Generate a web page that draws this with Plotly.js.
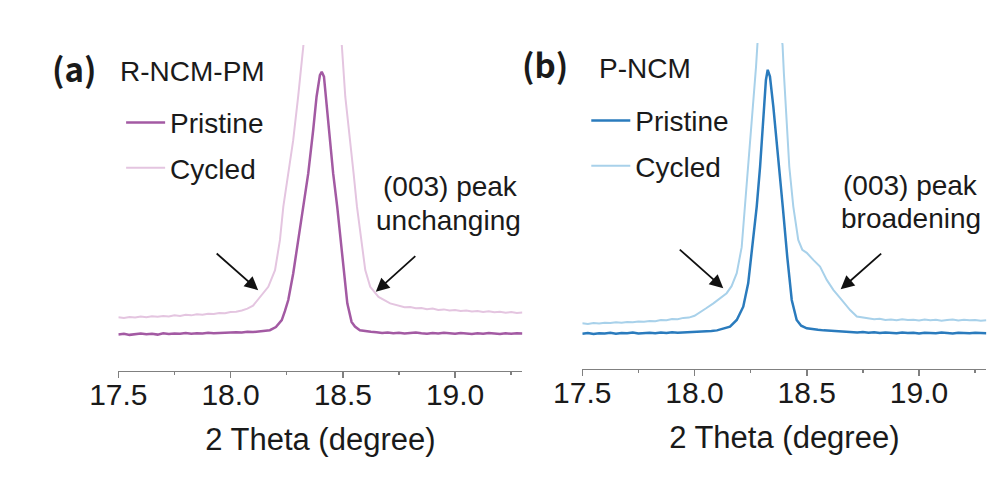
<!DOCTYPE html>
<html>
<head>
<meta charset="utf-8">
<script src="https://cdn.plot.ly/plotly-3.0.1.min.js"></script>
<style>html,body{margin:0;padding:0;background:#fff;}#chart{width:1001px;height:491px;}</style>
</head>
<body>
<div id="chart"></div>
<script>
// ---------- DATA (2 Theta in degree, intensity in arbitrary units) ----------
// Panel (a) R-NCM-PM, Pristine
var aPristineX = [17.500,17.525,17.550,17.575,17.600,17.625,17.650,17.675,17.700,17.725,17.750,17.775,17.800,17.825,17.850,17.875,17.900,17.925,17.950,17.975,18.000,18.025,18.050,18.075,18.100,18.125,18.150,
  18.175,18.202,18.228,18.242,18.257,18.279,18.301,18.324,18.346,18.368,18.383,18.398,18.406,18.416,18.428,18.443,18.457,18.475,18.490,18.505,18.520,18.539,18.554,18.576,18.600,
  18.625,18.650,18.675,18.700,18.725,18.750,18.775,18.800,18.825,18.850,18.875,18.900,18.925,18.950,18.975,19.000,19.025,19.050,19.075,19.100,19.125,19.150,19.175,19.200,19.225,19.250,19.275,19.300];
var aPristineY = [-0.2,0.1,-0.3,0.0,0.2,-0.1,0.1,-0.2,0.3,0.0,0.2,0.1,0.4,0.1,0.3,0.2,0.5,0.3,0.4,0.6,0.5,0.7,0.6,0.9,0.8,1.0,1.2,
  1.5,2.7,5.4,8.8,13.1,23.3,36.2,49.0,61.8,78.5,91.3,99.6,100.9,99.0,87.4,74.6,61.8,49.0,36.2,23.3,11.8,4.7,2.9,1.5,1.1,
  0.9,0.7,0.4,0.6,0.3,0.5,0.2,0.4,0.6,0.3,0.1,0.4,0.2,0.5,0.3,0.1,0.4,0.2,0.0,0.3,0.1,0.4,0.2,0.0,0.3,0.1,0.3,0.2];

// Panel (a) R-NCM-PM, Cycled
var aCycledX = [17.500,17.525,17.550,17.575,17.600,17.625,17.650,17.675,17.700,17.725,17.750,17.775,17.800,17.825,17.850,17.875,17.900,17.925,17.950,17.975,18.000,18.025,18.050,18.075,
  18.100,18.131,18.168,18.198,18.220,18.235,18.257,18.279,18.301,18.324,18.350,18.380,18.410,18.440,18.470,18.496,18.511,18.533,18.548,18.563,18.581,18.600,18.622,18.659,18.711,
  18.750,18.775,18.800,18.825,18.850,18.875,18.900,18.925,18.950,18.975,19.000,19.025,19.050,19.075,19.100,19.125,19.150,19.175,19.200,19.225,19.250,19.275,19.300];
var aCycledY = [6.5,6.2,6.6,6.4,6.8,6.5,6.9,6.7,7.0,6.8,7.2,7.0,7.4,7.2,7.6,7.4,7.8,7.7,8.1,8.0,8.5,8.6,9.1,9.8,
  10.9,14.3,18.2,24.6,36.2,49.0,61.8,74.6,91.3,110.5,135,158,168,158,135,110.5,91.3,74.6,61.8,49.0,36.2,24.6,18.2,14.3,11.8,
  10.8,10.3,10.4,9.9,10.0,9.6,9.8,9.3,9.5,9.1,9.3,8.9,9.1,8.7,8.9,8.5,8.8,8.4,8.6,8.2,8.5,8.1,8.3];

// Panel (b) P-NCM, Pristine
var bPristineX = [17.500,17.525,17.550,17.575,17.600,17.625,17.650,17.675,17.700,17.725,17.750,17.775,17.800,17.825,17.850,17.875,17.900,17.925,17.950,17.975,18.000,18.025,18.050,18.075,18.100,
  18.130,18.158,18.188,18.217,18.239,18.262,18.277,18.292,18.306,18.318,18.326,18.336,18.351,18.373,18.393,18.413,18.433,18.455,18.475,18.500,
  18.525,18.550,18.575,18.600,18.625,18.650,18.675,18.700,18.725,18.750,18.775,18.800,18.825,18.850,18.875,18.900,18.925,18.950,18.975,19.000,19.025,19.050,19.075,19.100,19.125,19.150,19.175,19.200,19.225,19.250,19.275,19.300];
var bPristineY = [-0.3,0.0,-0.4,-0.1,-0.2,0.1,-0.3,0.0,-0.1,0.2,-0.2,0.0,0.1,-0.1,0.2,0.0,0.3,0.1,0.2,0.4,0.3,0.5,0.6,0.8,1.0,
  1.6,2.4,5.0,10.1,19.1,35.8,48.6,64.0,80.7,97.3,101.2,98.6,87.0,67.8,48.6,29.3,12.7,5.0,2.8,1.8,
  1.4,1.2,1.0,0.9,0.6,0.7,0.4,0.5,0.2,0.4,0.1,0.3,0.0,0.2,0.1,-0.1,0.2,0.0,0.1,-0.2,0.1,0.0,-0.1,0.2,0.0,-0.2,0.1,0.0,-0.1,0.1,0.0,-0.1];

// Panel (b) P-NCM, Cycled
var bCycledX = [17.500,17.525,17.550,17.575,17.600,17.625,17.650,17.675,17.700,17.725,17.750,17.775,17.800,17.825,17.850,17.875,17.900,17.925,17.950,17.975,
  18.000,18.025,18.050,18.084,18.115,18.143,18.165,18.188,18.210,18.225,18.240,18.255,18.274,18.280,18.300,18.330,18.360,18.385,18.392,18.398,18.410,18.422,18.440,18.462,18.480,18.500,18.530,18.559,18.589,18.619,18.648,18.670,18.693,18.723,18.750,
  18.775,18.800,18.825,18.850,18.875,18.900,18.925,18.950,18.975,19.000,19.025,19.050,19.075,19.100,19.125,19.150,19.175,19.200,19.225,19.250,19.275,19.300];
var bCycledY = [3.7,3.5,3.8,3.6,3.9,3.8,4.1,3.9,4.2,4.1,4.4,4.3,4.6,4.5,5.0,4.9,5.4,5.3,5.8,5.9,
  6.6,7.9,9.4,11.4,13.3,15.3,18.0,23.0,33.0,48.6,64.0,80.7,102.4,110.8,135,150,135,115,110.8,99.9,80.7,64.0,48.6,35.8,32.0,30.8,28.0,25.5,20.4,16.5,13.5,11.0,8.8,6.3,5.9,
  5.6,5.3,5.5,5.0,5.2,4.9,5.3,5.0,5.1,4.8,5.2,4.9,5.1,4.7,5.0,5.2,4.8,5.1,4.9,5.0,4.7,4.9];

var seriesNames = ['Pristine', 'Cycled'];
var sampleNames = ['R-NCM-PM', 'P-NCM'];
var panelLabels = ['(a)', '(b)'];
var peakNotes = [['(003) peak', 'unchanging'], ['(003) peak', 'broadening']];
var tickVals = [17.5, 18.0, 18.5, 19.0];
var tickText = ['17.5', '18.0', '18.5', '19.0'];
var xTitle = '2 Theta (degree)';

// ---------- STYLE ----------
var FONT = 'Liberation Sans, Arial, Helvetica, sans-serif';
var TXT = '#1a1a1a';
var AXC = '#808080';
var purpleDark = '#a35aa3', purpleLight = '#e4c5e0';
var blueDark = '#2a7bbd', blueLight = '#a8d1ea';

var traces = [
  {x: aCycledX, y: aCycledY, name: seriesNames[1], type: 'scatter', mode: 'lines', xaxis: 'x', yaxis: 'y',
   line: {color: purpleLight, width: 2}, legend: 'legend', legendgroup: 'a2', legendrank: 2},
  {x: aPristineX, y: aPristineY, name: seriesNames[0], type: 'scatter', mode: 'lines', xaxis: 'x', yaxis: 'y',
   line: {color: purpleDark, width: 2.5}, legend: 'legend', legendgroup: 'a1', legendrank: 1},
  {x: bCycledX, y: bCycledY, name: seriesNames[1], type: 'scatter', mode: 'lines', xaxis: 'x2', yaxis: 'y2',
   line: {color: blueLight, width: 2}, legend: 'legend2', legendgroup: 'b2', legendrank: 2},
  {x: bPristineX, y: bPristineY, name: seriesNames[0], type: 'scatter', mode: 'lines', xaxis: 'x2', yaxis: 'y2',
   line: {color: blueDark, width: 2.5}, legend: 'legend2', legendgroup: 'b1', legendrank: 1}
];

function xAxis(domain, anchor) {
  return {
    domain: domain, anchor: anchor, range: [17.5, 19.3], fixedrange: true,
    showgrid: false, zeroline: false, showline: true, linecolor: AXC, linewidth: 1.5,
    ticks: 'outside', ticklen: 6, tickwidth: 1.5, tickcolor: AXC,
    tickvals: tickVals, ticktext: tickText, ticklabelstandoff: -9,
    tickfont: {family: FONT, size: 30, color: TXT},
    minor: {tickvals: [17.75, 18.25, 18.75, 19.25], ticks: 'outside', ticklen: 3, tickwidth: 1.5, tickcolor: AXC},
    title: {text: xTitle, font: {family: FONT, size: 31, color: TXT}, standoff: 18}
  };
}
function yAxis(domain, anchor, range) {
  return {domain: domain, anchor: anchor, range: range, visible: false, fixedrange: true};
}
function legendAt(x, y) {
  return {x: x, y: y, xanchor: 'left', yanchor: 'top', bgcolor: 'rgba(0,0,0,0)', borderwidth: 0,
          font: {family: FONT, size: 28, color: TXT}, itemwidth: 39, tracegroupgap: 6, traceorder: 'grouped'};
}
function txt(text, x, y, xanchor, size, bold) {
  return {text: bold ? '<b>' + text + '</b>' : text, xref: 'paper', yref: 'paper', x: x, y: y,
          xanchor: xanchor, yanchor: 'middle', showarrow: false,
          font: {family: bold ? 'Noto Sans CJK SC, Noto Sans, sans-serif' : FONT, size: size, color: TXT}};
}
function arrow(xref, yref, x, y, ax, ay) {
  return {xref: xref, yref: yref, x: x, y: y, ax: ax, ay: ay, text: '', showarrow: true,
          arrowhead: 2, arrowsize: 1.5, arrowwidth: 1.8, arrowcolor: '#111', standoff: 0};
}

var layout = {
  width: 1001, height: 491,
  margin: {l: 0, r: 0, t: 0, b: 0},
  paper_bgcolor: '#fff', plot_bgcolor: '#fff',
  showlegend: true,
  xaxis: xAxis([0.1182, 0.5219], 'y'),
  yaxis: yAxis([0.2444, 0.9084], 'x', [-14.2, 111.2]),
  xaxis2: xAxis([0.5817, 0.9854], 'y2'),
  yaxis2: yAxis([0.2485, 0.9124], 'x2', [-13.85, 111.5]),
  legend: legendAt(0.121, 0.801),
  legend2: legendAt(0.5857, 0.805),
  annotations: [
    txt(panelLabels[0], 0.0735, 0.862, 'center', 33, true),
    txt(sampleNames[0], 0.1179, 0.854, 'left', 28, false),
    txt(peakNotes[0][0], 0.4496, 0.6198, 'center', 28, false),
    txt(peakNotes[0][1], 0.4476, 0.5519, 'center', 28, false),
    txt(panelLabels[1], 0.5445, 0.870, 'center', 33, true),
    txt(sampleNames[1], 0.5964, 0.8609, 'left', 28, false),
    txt(peakNotes[1][0], 0.9091, 0.6232, 'center', 28, false),
    txt(peakNotes[1][1], 0.9096, 0.556, 'center', 28, false),
    arrow('x', 'y', 18.123, 16.9, -43, -38),
    arrow('x', 'y', 18.647, 16.3, 41, -37),
    arrow('x2', 'y2', 18.128, 17.2, -45, -40),
    arrow('x2', 'y2', 18.651, 16.8, 42, -37)
  ]
};

Plotly.newPlot('chart', traces, layout, {staticPlot: true, displayModeBar: false});
</script>
</body>
</html>
